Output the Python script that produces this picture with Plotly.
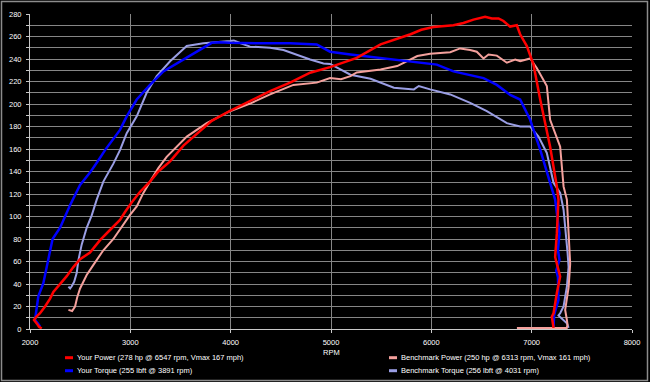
import plotly.graph_objects as go

# ---------------- data ----------------
your_power_rpm = [2117, 2090, 2067, 2040, 2060, 2100, 2150, 2200, 2233, 2300, 2366, 2432, 2499, 2598,
                  2698, 2797, 2897, 2947, 3013, 3097, 3196, 3279, 3396, 3529, 3695, 3811, 3994, 4193,
                  4393, 4592, 4792, 4991, 5257, 5494, 5793, 5900, 6021, 6220, 6320, 6420, 6536, 6603,
                  6670, 6719, 6785, 6852, 6885, 6952, 7018, 7085, 7184, 7251, 7267, 7251, 7234, 7284,
                  7251, 7218, 7201, 7218]
your_power_hp = [0.5, 2, 5, 8, 10.5, 14, 20, 27, 33, 40, 47, 55, 62, 68,
                 79, 88, 97, 104, 112.5, 122, 131, 140, 149, 163, 176, 185, 194, 202.5,
                 211.4, 219, 227.8, 232.8, 241, 253, 262, 266, 268.4, 270, 272, 275, 277.6, 276,
                 276, 273.8, 268.8, 270, 262, 251.5, 235, 204, 162, 126.7, 115, 85, 64, 46.6,
                 32, 14, 11, 1]

your_torque_rpm = [2100, 2080, 2050, 2067, 2083, 2133, 2166, 2200, 2225, 2300, 2399, 2499, 2598, 2682,
                   2748, 2897, 2964, 3064, 3196, 3329, 3529, 3728, 3811, 3891, 3994, 4260, 4592, 4858,
                   4991, 5194, 5494, 5822, 6055, 6221, 6520, 6653, 6786, 6885, 6985, 7085, 7184, 7234,
                   7251, 7277, 7262, 7277, 7245, 7262, 7267, 7251, 7224, 7218]
your_torque_lbft = [2, 5, 8, 17, 29, 40.7, 55.5, 70, 80, 90, 110, 128, 139, 150,
                    159, 177, 189, 204, 217, 229, 239.7, 250, 254.4, 255, 254.5, 254, 254, 253,
                    246.5, 244, 241, 238, 235, 229, 223, 217, 208, 204, 186, 159.5, 130, 115,
                    103, 85, 70, 61.5, 52, 46, 26, 20, 12.5, 2]

bench_power_rpm = [2383, 2420, 2449, 2470, 2499, 2565, 2632, 2731, 2831, 2914, 2997, 3064, 3130, 3196,
                   3279, 3362, 3563, 3761, 3994, 4193, 4393, 4625, 4858, 4991, 5100, 5194, 5257, 5494,
                   5660, 5860, 5988, 6188, 6287, 6387, 6453, 6520, 6570, 6653, 6753, 6836, 6886, 6985,
                   7051, 7151, 7184, 7284, 7318, 7351, 7368, 7384, 7368, 7334, 7351, 7358, 7350, 6853]
bench_power_hp = [17, 16, 20, 28, 36, 48, 57, 70, 80, 91, 101.5, 109, 121, 131,
                  143, 153, 171, 183, 193.6, 200.4, 208.5, 217, 219, 223, 222, 224.8, 228, 230.7,
                  233.7, 242.6, 244.7, 246, 249.4, 248, 246.5, 240.5, 244, 243, 236.7, 239.6, 238, 240.5,
                  232, 216, 186, 162, 126.7, 115, 85, 58, 37, 17, 8, 3.6, 1, 1]

bench_torque_rpm = [2383, 2400, 2416, 2440, 2466, 2482, 2515, 2565, 2615, 2665, 2731, 2831, 2897, 2964,
                    3064, 3163, 3263, 3396, 3562, 3728, 3994, 4031, 4100, 4193, 4393, 4526, 4792, 4925,
                    4991, 5194, 5394, 5627, 5826, 5875, 5988, 6188, 6387, 6553, 6753, 6886, 6985, 7068,
                    7151, 7218, 7284, 7318, 7358, 7368, 7351, 7318, 7284, 7267, 7351, 7368]
bench_torque_lbft = [37.7, 36, 38, 42, 50, 61, 75, 90, 101, 115, 131, 147, 159, 174,
                     189, 210, 224.8, 238, 251.5, 254, 256, 256.5, 254, 251, 250, 248, 239.6, 236,
                     235.6, 226, 222.4, 214.4, 213, 216, 213, 208.5, 201, 193.6, 183, 180, 180, 171,
                     156.5, 130, 121, 106, 67.4, 55, 37.7, 20, 14, 12, 5, 1]

series_names = [
    "Your Power (278 hp @ 6547 rpm, Vmax 167 mph)",
    "Benchmark Power (250 hp @ 6313 rpm, Vmax 161 mph)",
    "Your Torque (255 lbft @ 3891 rpm)",
    "Benchmark Torque (256 lbft @ 4031 rpm)",
]
x_ticks = [2000, 3000, 4000, 5000, 6000, 7000, 8000]
y_ticks = list(range(0, 281, 20))
x_title = "RPM"

# ---------------- styling ----------------
W, H = 650, 382
ML, MR, MT, MB = 30, 18, 14, 53
PW, PH = W - ML - MR, H - MT - MB
FONT = "Liberation Sans, Arial, sans-serif"
FS = 7.5

def px(x):
    return (x - ML) / PW

def py(y):
    return (H - MB - y) / PH

colors = ["#ff0000", "#f4a09c", "#0000ff", "#9a9ee4"]
widths = [2.5, 2, 2.5, 2]
xs = [your_power_rpm, bench_power_rpm, your_torque_rpm, bench_torque_rpm]
ys = [your_power_hp, bench_power_hp, your_torque_lbft, bench_torque_lbft]
draw_order = [3, 1, 2, 0]

fig = go.Figure()
for i in draw_order:
    fig.add_trace(go.Scatter(x=xs[i], y=ys[i], mode="lines", name=series_names[i],
                             line=dict(color=colors[i], width=widths[i]),
                             showlegend=False, hoverinfo="skip"))

grid = "#868686"
axcol = "#c8c8c8"
fig.update_layout(
    width=W, height=H,
    margin=dict(l=ML, r=MR, t=MT, b=MB, pad=0, autoexpand=False),
    paper_bgcolor="black", plot_bgcolor="black",
    font=dict(family=FONT, size=FS, color="white"),
    showlegend=False,
    xaxis=dict(range=[2000, 8000], tickvals=x_ticks, ticktext=[str(v) for v in x_ticks],
               showgrid=True, gridcolor=grid, gridwidth=1,
               showline=True, linecolor=axcol, linewidth=1,
               ticks="outside", ticklen=3, tickcolor=axcol,
               tickfont=dict(family=FONT, size=FS, color="white"),
               ticklabelstandoff=3, zeroline=False, automargin=False),
    yaxis=dict(range=[0, 280], tickvals=y_ticks, ticktext=[str(v) for v in y_ticks],
               showgrid=True, gridcolor=grid, gridwidth=1,
               showline=True, linecolor=axcol, linewidth=1,
               ticks="outside", ticklen=3, tickcolor=axcol,
               minor=dict(dtick=10, showgrid=True, gridcolor=grid, gridwidth=1,
                          ticks="outside", ticklen=3, tickcolor=axcol),
               tickfont=dict(family=FONT, size=FS, color="white"),
               ticklabelstandoff=3, zeroline=False, automargin=False),
)

shapes = []
annotations = []
# outer frame
shapes.append(dict(type="rect", xref="paper", yref="paper",
                   x0=px(1.5), x1=px(647.5), y0=py(380.5), y1=py(1.5),
                   line=dict(color="#8c8c8c", width=1.5), layer="above"))
# axis title
annotations.append(dict(text=x_title, xref="paper", yref="paper", x=px(331), y=py(352.5),
                        xanchor="center", yanchor="middle", showarrow=False,
                        font=dict(family=FONT, size=FS, color="white")))
# custom legend (2 columns)
legend_pos = [(65, 357.7), (389, 357.7), (65, 370.7), (389, 370.7)]
for i, (lx, ly) in enumerate(legend_pos):
    shapes.append(dict(type="line", xref="paper", yref="paper",
                       x0=px(lx), x1=px(lx + 8), y0=py(ly), y1=py(ly),
                       line=dict(color=colors[i], width=3)))
    annotations.append(dict(text=series_names[i], xref="paper", yref="paper",
                            x=px(lx + 11), y=py(ly), xanchor="left", yanchor="middle",
                            showarrow=False, borderpad=0,
                            font=dict(family=FONT, size=FS, color="white")))
fig.update_layout(shapes=shapes, annotations=annotations)

fig.write_html("out.html",
               config={"displayModeBar": False, "staticPlot": True},
               post_script="document.body.style.margin='0';document.body.style.padding='0';"
                           "document.body.style.background='black';")
